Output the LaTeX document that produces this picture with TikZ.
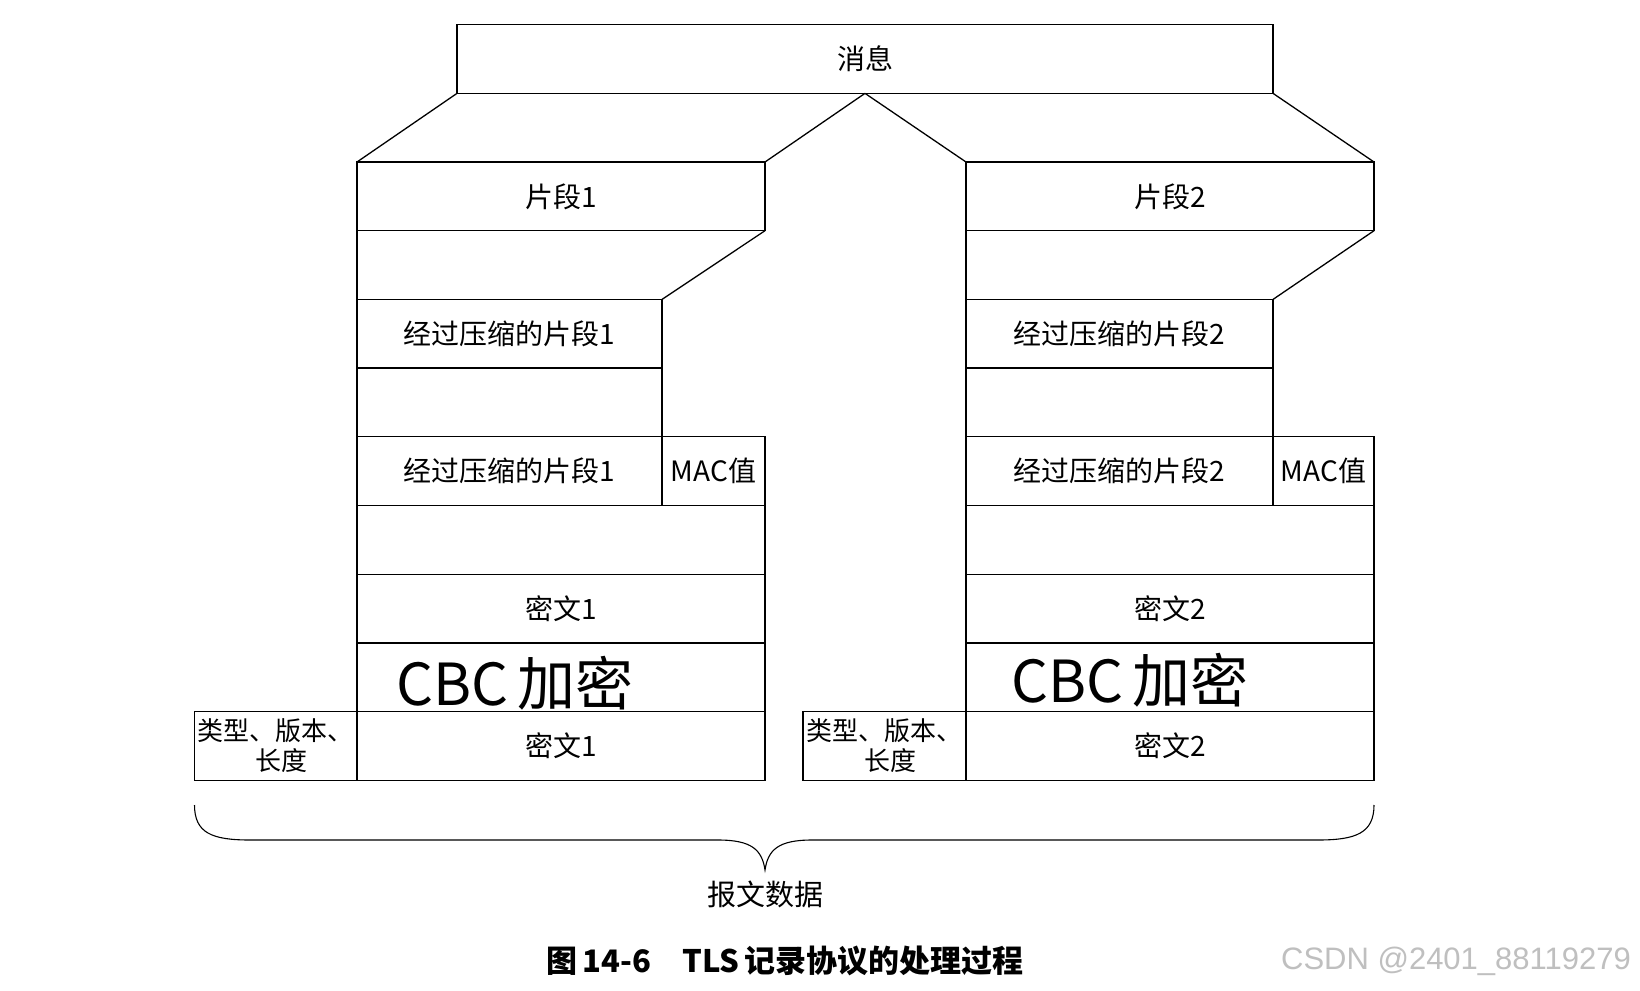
\documentclass[tikz,border=0pt]{standalone}
\usepackage{fontspec}
\setmainfont{Noto Sans CJK SC}
\newfontfamily\wmfont{Liberation Sans}
\begin{document}
\begin{tikzpicture}[x=1pt,y=-1pt,
  line width=1.3pt, line join=miter,
  box/.style={draw, inner sep=0pt, outer sep=0pt, minimum height=68.7pt,
    font=\fontsize{28}{30}\selectfont, align=center},
  hdr/.style={box, font=\fontsize{26}{30}\selectfont},
  hand/.style={font=\fontsize{58}{60}\selectfont, inner sep=0pt},
  lbl/.style={font=\fontsize{29}{32}\selectfont, inner sep=0pt}]
\useasboundingbox (0,0) rectangle (1640,990);
\fill[white] (0,0) rectangle (1640,990);
% top message
\node[box, minimum width=816pt] (msg) at (865,59) {消息};
% left column
\node[box, minimum width=408pt] (frag1) at (561,196.35) {片段1};
\node[box, minimum width=305pt] (comp1) at (509.5,333.75) {经过压缩的片段1};
\node[box, minimum width=305pt] (comp1b) at (509.5,471.15) {经过压缩的片段1};
\node[box, minimum width=103pt] (mac1) at (713.5,471.15) {MAC值};
\node[box, minimum width=408pt] (ct1) at (561,608.55) {密文1};
\node[box, minimum width=408pt] (ct1b) at (561,745.95) {密文1};
\node[hdr, minimum width=162.5pt] (hdr1) at (275.75,745.95) {类型、版本、\\\hspace*{0.45em}长度};
% right column
\node[box, minimum width=408pt] (frag2) at (1170,196.35) {片段2};
\node[box, minimum width=307pt] (comp2) at (1119.5,333.75) {经过压缩的片段2};
\node[box, minimum width=307pt] (comp2b) at (1119.5,471.15) {经过压缩的片段2};
\node[box, minimum width=101pt] (mac2) at (1323.5,471.15) {MAC值};
\node[box, minimum width=408pt] (ct2) at (1170,608.55) {密文2};
\node[box, minimum width=408pt] (ct2b) at (1170,745.95) {密文2};
\node[hdr, minimum width=163pt] (hdr2) at (884.5,745.95) {类型、版本、\\\hspace*{0.45em}长度};
% connectors left
\draw (msg.south west) -- (frag1.north west);
\draw (msg.south) -- (frag1.north east);
\draw (frag1.south west) -- (comp1.north west);
\draw (frag1.south east) -- (comp1.north east);
\draw (comp1.south west) -- (comp1b.north west);
\draw (comp1.south east) -- (comp1b.north east);
\draw (comp1b.south west) -- (ct1.north west);
\draw (mac1.south east) -- (ct1.north east);
\draw (ct1.south west) -- (ct1b.north west);
\draw (ct1.south east) -- (ct1b.north east);
% connectors right
\draw (msg.south) -- (frag2.north west);
\draw (msg.south east) -- (frag2.north east);
\draw (frag2.south west) -- (comp2.north west);
\draw (frag2.south east) -- (comp2.north east);
\draw (comp2.south west) -- (comp2b.north west);
\draw (comp2.south east) -- (comp2b.north east);
\draw (comp2b.south west) -- (ct2.north west);
\draw (mac2.south east) -- (ct2.north east);
\draw (ct2.south west) -- (ct2b.north west);
\draw (ct2.south east) -- (ct2b.north east);
% handwriting
\node[hand] (cbc1) at (515,683) {CBC\,加密};
\node[hand] (cbc2) at (1130,680) {CBC\,加密};
% brace
\coordinate (bl) at (194.5,805);
\coordinate (br) at (1374,805);
\coordinate (tip) at (765,870);
\draw[line width=1.1pt] (bl) .. controls (194.5,833) and (212,840) .. (250,840) -- (718,840)
  .. controls (752,840) and (762,850) .. (tip)
  .. controls (768,850) and (778,840) .. (812,840) -- (1318,840)
  .. controls (1356,840) and (1374,833) .. (br);
\node[lbl] (data) at (765,894) {报文数据};
\node[lbl, font=\bfseries\fontsize{31}{34}\selectfont] (cap) at (785,961) {图\,14-6\hspace{1em}TLS\,记录协议的处理过程};
\node[inner sep=0pt, text=black!25, font=\wmfont\fontsize{31}{34}\selectfont] (wm) at (1456,961) {CSDN @2401\_88119279};
\end{tikzpicture}
\end{document}
